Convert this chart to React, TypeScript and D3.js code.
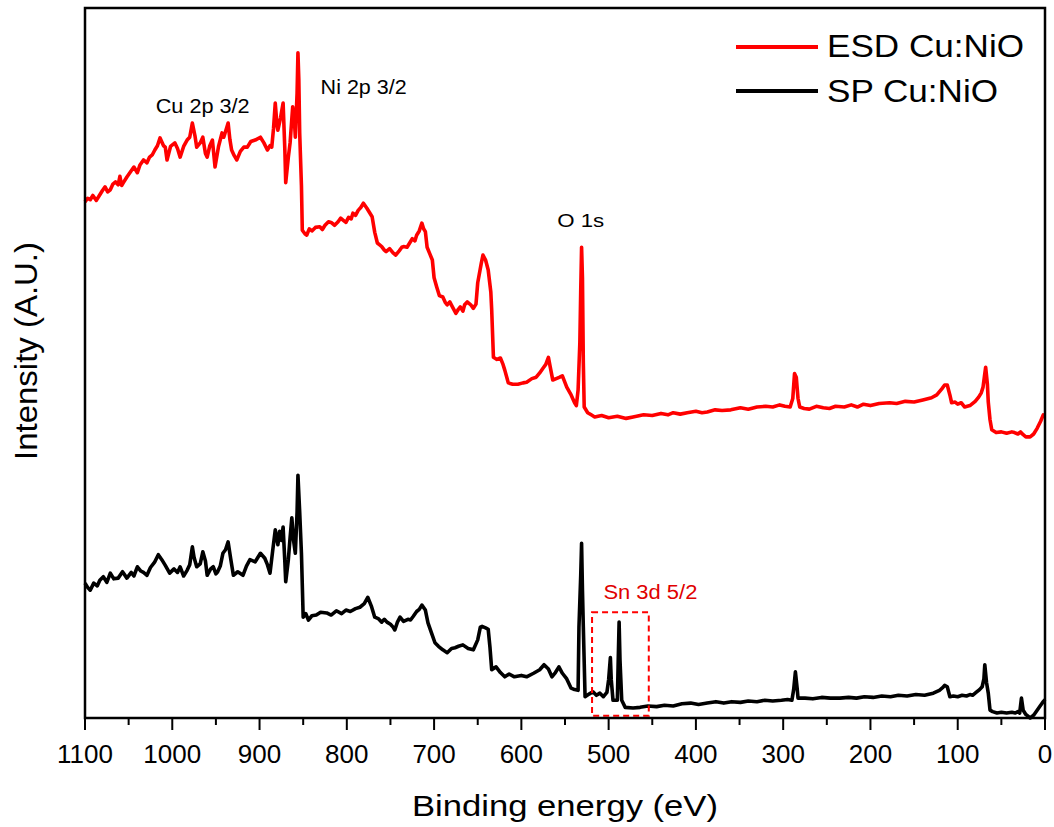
import React from "react";
import * as d3 from "d3";

// [binding energy (eV), intensity (a.u.)]
const esdSpectrum: [number, number][] = [
  [1100,72.7],[1097,73.2],[1094,73.0],[1091,73.6],[1087,72.9],[1083,73.7],[1080,74.3],[1077,74.8],[1074,74.1],[1071,74.4],
  [1068,75.2],[1065,75.5],[1062,75.1],[1060,76.3],[1058,75.0],[1056,75.4],[1052,76.2],[1048,76.9],[1044,77.6],[1040,76.8],
  [1037,77.9],[1033,78.6],[1029,78.2],[1026,79.0],[1023,79.3],[1020,80.0],[1017,80.6],[1014,81.7],[1010,80.6],[1008,80.4],
  [1006,78.6],[1002,80.5],[997,81.0],[994,80.2],[991,79.0],[987,80.5],[983,81.4],[980,81.8],[977,83.8],[974,82.0],
  [972,80.4],[968,81.0],[965,81.8],[962,79.5],[960,79.0],[957,80.6],[954,81.4],[951,77.6],[947,80.5],[943,82.4],
  [941,81.8],[938,83.0],[936,83.8],[934,81.5],[932,80.0],[929,79.2],[926,78.6],[922,79.8],[918,80.4],[914,80.4],
  [910,81.2],[905,81.4],[899,81.8],[895,81.0],[891,80.0],[888,80.6],[886,80.4],[884,83.0],[882,86.6],[880,83.5],
  [879,82.8],[876,84.5],[873,86.6],[871,80.0],[870,75.4],[867,79.0],[865,81.0],[862,86.1],[860,84.0],[859,81.8],
  [857,88.0],[856,93.7],[855,90.0],[854,82.4],[852,75.0],[851,68.7],[848,68.2],[846,68.0],[843,68.9],[840,68.6],
  [836,69.1],[831,69.2],[828,68.8],[825,69.4],[821,69.9],[818,69.8],[814,69.4],[810,69.9],[807,70.4],[804,70.1],
  [801,69.8],[798,70.5],[795,70.3],[793,71.1],[790,70.8],[787,71.5],[784,71.9],[781,72.5],[777,71.8],[774,71.2],
  [771,70.6],[768,68.4],[765,66.9],[762,66.6],[760,66.4],[757,65.9],[755,65.7],[751,66.1],[747,65.5],[744,65.2],
  [740,65.8],[737,66.3],[735,66.4],[731,66.3],[728,66.9],[725,67.5],[722,67.2],[720,68.0],[717,68.6],[714,69.7],
  [712,68.9],[710,68.5],[708,66.3],[705,65.4],[702,64.5],[700,62.0],[697,60.7],[694,59.5],[690,59.3],[687,58.5],
  [685,58.2],[682,58.6],[679,57.9],[675,57.0],[672,57.6],[670,57.9],[667,57.3],[665,58.2],[662,58.6],[658,58.2],
  [655,57.7],[652,58.3],[650,61.3],[646,64.0],[644,65.2],[641,64.5],[638,63.1],[635,60.0],[634,57.5],[632,50.8],
  [628,50.5],[624,50.7],[621,49.8],[619,49.0],[615,47.2],[610,47.0],[604,47.0],[598,47.2],[594,47.3],[588,47.8],
  [583,48.0],[579,48.6],[575,49.3],[572,49.8],[569,50.8],[567,49.5],[564,47.6],[560,47.8],[556,48.0],[553,48.2],
  [548,46.6],[543,45.5],[539,44.4],[537,44.0],[535,46.2],[533,52.8],[532,60.0],[531,66.3],[530,62.0],[529,50.0],
  [528,43.8],[524,43.0],[520,42.7],[516,42.4],[508,42.6],[500,42.3],[490,42.5],[480,42.2],[472,42.4],[460,42.7],
  [450,42.6],[440,42.9],[432,42.7],[426,43.0],[418,42.8],[410,43.0],[400,43.2],[393,43.0],[387,43.1],[378,43.4],
  [370,43.3],[360,43.4],[349,43.7],[340,43.5],[330,43.8],[320,43.9],[312,43.8],[304,44.1],[298,43.9],[292,43.8],
  [289,45.0],[287,48.5],[285,48.0],[283,45.0],[281,43.8],[276,43.6],[270,43.5],[262,43.9],[254,43.7],[247,43.6],
  [240,43.9],[230,43.8],[222,44.1],[215,43.8],[208,44.2],[200,44.0],[190,44.3],[178,44.4],[170,44.3],[160,44.6],
  [150,44.5],[140,44.8],[130,45.1],[124,45.5],[118,46.4],[115,46.9],[112,46.9],[109,45.5],[107,44.4],[103,44.5],
  [100,44.2],[96,44.4],[92,43.8],[86,44.0],[80,44.6],[76,45.2],[73,45.8],[71,46.6],[69,48.5],[68,49.4],
  [66,47.0],[65,44.5],[63,42.0],[61,40.6],[56,40.2],[50,40.3],[44,40.1],[38,40.3],[35,40.2],[31,40.0],
  [28,40.3],[25,39.9],[22,39.6],[17,39.6],[13,40.0],[9,40.8],[5,41.8],[2,42.7],[0,42.5]
];

const spSpectrum: [number, number][] = [
  [1100,19.0],[1097,18.4],[1094,18.0],[1090,19.0],[1086,18.6],[1083,19.4],[1079,19.9],[1075,19.1],[1071,20.4],[1067,19.6],
  [1062,19.7],[1057,20.6],[1052,19.7],[1047,20.5],[1044,20.0],[1040,21.3],[1036,20.7],[1033,20.5],[1029,20.1],[1025,21.2],
  [1020,22.0],[1016,23.0],[1012,22.3],[1008,21.5],[1003,20.4],[998,21.0],[994,20.5],[991,21.3],[987,20.0],[983,20.8],
  [980,21.6],[977,24.1],[975,22.6],[972,21.3],[968,21.7],[965,23.4],[962,22.1],[960,20.1],[956,21.0],[953,21.3],
  [950,20.3],[948,20.6],[945,21.4],[942,23.2],[939,23.7],[936,24.8],[933,22.4],[930,20.1],[925,20.6],[919,20.1],
  [915,21.4],[911,22.3],[905,22.0],[899,23.2],[894,22.5],[891,21.6],[888,20.4],[885,23.5],[882,26.5],[879,24.4],
  [877,26.3],[875,25.0],[873,26.9],[871,22.0],[870,19.2],[867,22.3],[865,25.4],[863,28.2],[861,25.0],[859,23.2],
  [857,29.0],[856,34.2],[854,29.0],[852,23.2],[850,14.2],[847,14.7],[844,13.8],[840,14.4],[835,14.5],[830,14.9],
  [823,14.8],[818,14.5],[812,15.1],[806,14.7],[801,15.2],[796,15.0],[790,15.4],[785,15.6],[780,16.1],[776,17.0],
  [772,15.8],[768,14.2],[764,14.0],[760,13.5],[757,13.9],[754,13.5],[750,13.2],[747,12.8],[745,12.4],[742,13.5],
  [739,14.2],[735,13.6],[730,13.9],[727,13.8],[724,14.3],[720,15.0],[717,15.3],[714,15.9],[710,15.2],[707,13.4],
  [703,12.0],[699,10.6],[695,10.1],[690,9.6],[685,9.2],[680,9.8],[676,9.9],[672,10.1],[667,10.3],[661,9.8],
  [655,9.6],[650,11.0],[647,12.8],[645,12.9],[641,12.7],[638,12.5],[636,10.0],[634,6.8],[629,7.2],[624,6.4],
  [619,5.8],[614,6.2],[608,5.8],[600,6.0],[594,5.8],[586,6.3],[579,6.8],[574,7.5],[569,6.9],[565,5.8],
  [561,6.4],[557,7.2],[553,6.3],[548,5.5],[543,4.2],[539,4.0],[535,3.9],[534,12.8],[532,20.0],[531,24.6],
  [530,18.0],[529,12.8],[527,3.0],[522,3.4],[518,3.7],[514,3.2],[510,3.5],[506,3.0],[502,3.6],[500,5.4],
  [498,8.5],[497,5.4],[495,2.5],[490,2.5],[489,8.2],[488,13.5],[487,8.2],[485,2.5],[481,1.5],[472,1.4],
  [464,1.5],[455,1.7],[445,1.6],[436,1.8],[426,1.7],[416,2.0],[406,2.1],[397,1.9],[387,2.1],[377,2.3],
  [368,2.1],[359,2.3],[349,2.2],[340,2.4],[330,2.3],[321,2.5],[312,2.4],[302,2.5],[295,2.6],[290,2.5],
  [288,4.0],[286,6.5],[284,4.2],[283,2.8],[275,2.8],[266,2.7],[256,2.9],[246,2.8],[235,2.8],[225,2.9],
  [216,2.8],[207,3.0],[197,2.9],[187,3.1],[177,3.0],[168,3.2],[158,3.1],[148,3.3],[138,3.2],[128,3.5],
  [121,3.9],[117,4.3],[115,4.6],[112,4.4],[109,3.0],[105,3.1],[100,3.0],[95,3.2],[90,3.1],[86,3.3],
  [83,3.2],[79,3.6],[75,4.0],[72,4.4],[70,5.5],[69,7.5],[67,5.0],[65,3.5],[63,1.1],[60,0.9],
  [55,0.7],[50,0.8],[44,0.7],[38,0.8],[34,0.7],[31,0.9],[29,0.7],[27,2.8],[25,1.1],[22,0.5],
  [17,0.0],[13,0.4],[9,1.1],[5,1.8],[2,2.3],[0,2.6]
];

const xTicks = [1100, 1000, 900, 800, 700, 600, 500, 400, 300, 200, 100, 0];
const xMinorTicks = [1050, 950, 850, 750, 650, 550, 450, 350, 250, 150, 50];

const seriesNames = ["ESD Cu:NiO", "SP Cu:NiO"];
const seriesColors = ["#ff0000", "#000000"];

const peakLabels = [
  { text: "Cu 2p 3/2", energy: 1019, intensity: 85.2, len: 94 },
  { text: "Ni 2p 3/2", energy: 830, intensity: 87.9, len: 86 },
  { text: "O 1s", energy: 559, intensity: 69.1, len: 47 },
];
const snLabel = { text: "Sn 3d 5/2", energy: 506, intensity: 16.8, len: 94 };
const snBox = { e0: 519, e1: 454, i0: 14.9, i1: 0.3 };

export default function App() {
  const W = 1054, H = 827;
  const left = 85, right = 1045, top = 8, bottom = 718;
  const x = d3.scaleLinear().domain([1100, 0]).range([left, right]);
  const y = d3.scaleLinear().domain([0, 100]).range([bottom, top]);
  const line = d3.line<[number, number]>().x(d => x(d[0])).y(d => y(d[1]));
  const font = "'Liberation Sans', Arial, Helvetica, sans-serif";
  const legendLens = [197, 171];

  return (
    <svg width={W} height={H} style={{ position: "absolute", left: 0, top: 0, background: "#fff" }} fontFamily={font}>
      <rect x={0} y={0} width={W} height={H} fill="#fff" />
      <path d={line(spSpectrum) || ""} fill="none" stroke={seriesColors[1]} strokeWidth={3.6} strokeLinejoin="round" />
      <path d={line(esdSpectrum) || ""} fill="none" stroke={seriesColors[0]} strokeWidth={3.6} strokeLinejoin="round" />
      <rect x={x(snBox.e0)} y={y(snBox.i0)} width={x(snBox.e1) - x(snBox.e0)} height={y(snBox.i1) - y(snBox.i0)}
        fill="none" stroke="#ff0000" strokeWidth={2} strokeDasharray="6,4" />
      <rect x={left} y={top} width={right - left} height={bottom - top} fill="none" stroke="#000" strokeWidth={2.5} />
      {xTicks.map(t => (
        <g key={t}>
          <line x1={x(t)} x2={x(t)} y1={bottom} y2={bottom + 12} stroke="#000" strokeWidth={2} />
          <text x={x(t)} y={763} textAnchor="middle" fontSize={26} fill="#000">{t}</text>
        </g>
      ))}
      {xMinorTicks.map(t => (
        <line key={t} x1={x(t)} x2={x(t)} y1={bottom} y2={bottom + 7} stroke="#000" strokeWidth={2} />
      ))}
      <text x={(left + right) / 2} y={816} textAnchor="middle" fontSize={29} textLength={306} lengthAdjust="spacingAndGlyphs" fill="#000">Binding energy (eV)</text>
      <text transform={`translate(36.5,351) rotate(-90)`} textAnchor="middle" fontSize={31} textLength={218} lengthAdjust="spacingAndGlyphs" fill="#000">Intensity (A.U.)</text>
      {peakLabels.map(p => (
        <text key={p.text} x={x(p.energy)} y={y(p.intensity)} fontSize={p.text === "O 1s" ? 18 : 21} textLength={p.len} lengthAdjust="spacingAndGlyphs" fill="#000">{p.text}</text>
      ))}
      <text x={x(snLabel.energy)} y={y(snLabel.intensity)} fontSize={19.5} textLength={snLabel.len} lengthAdjust="spacingAndGlyphs" fill="#e00000">{snLabel.text}</text>
      {seriesNames.map((n, i) => (
        <g key={n}>
          <line x1={736} x2={818} y1={47 + i * 44} y2={47 + i * 44} stroke={seriesColors[i]} strokeWidth={4} />
          <text x={827} y={57 + i * 45} fontSize={31} textLength={legendLens[i]} lengthAdjust="spacingAndGlyphs" fill="#000">{n}</text>
        </g>
      ))}
    </svg>
  );
}
